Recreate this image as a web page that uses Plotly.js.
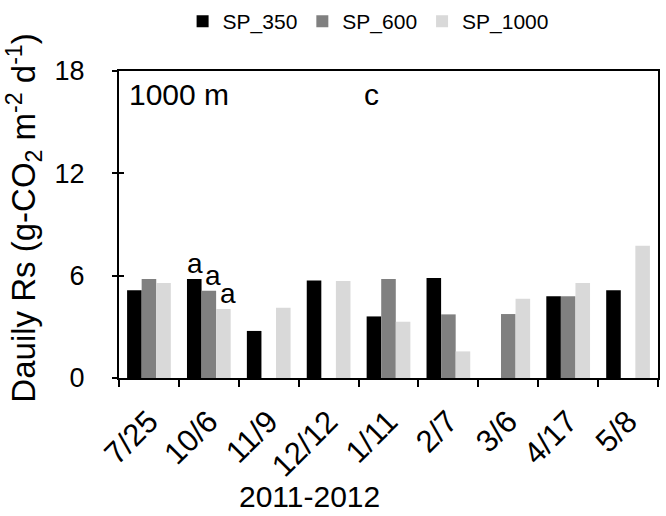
<!DOCTYPE html>
<html>
<head>
<meta charset="utf-8">
<script src="https://cdn.plot.ly/plotly-3.0.1.min.js"></script>
<style>
  html, body { margin: 0; padding: 0; background: #fff; }
  #chart { width: 666px; height: 516px; }
</style>
</head>
<body>
<div id="chart"></div>
<script>
// Sampling dates (2011-2012)
const dates = ['7/25', '10/6', '11/9', '12/12', '1/11', '2/7', '3/6', '4/17', '5/8'];

// Daily soil respiration, g-CO2 m-2 d-1 (null = no measurement)
const sp350  = [5.14, 5.81, 2.76, 5.72, 3.61, 5.86, null, 4.79, 5.14];
const sp600  = [5.81, 5.12, null, null, 5.81, 3.73, 3.75, 4.79, null];
const sp1000 = [5.57, 4.05, 4.12, 5.69, 3.30, 1.56, 4.65, 5.57, 7.76];

const seriesNames = ['SP_350', 'SP_600', 'SP_1000'];
const seriesColors = ['#000000', '#808080', '#d9d9d9'];

// Significance letters shown over the 10/6 group
const letterDate = '10/6';
const letters = ['a', 'a', 'a'];

const FONT = 'Liberation Sans, Arial, sans-serif';
const allSeries = [sp350, sp600, sp1000];

const traces = allSeries.map((vals, i) => ({
  type: 'bar',
  name: seriesNames[i],
  x: dates,
  y: vals,
  marker: { color: seriesColors[i], line: { width: 0 } },
  hoverinfo: 'x+y+name'
}));

const idx = dates.indexOf(letterDate);
const letterShift = [-14, 4, 19];
const letterNotes = letters.map((t, i) => ({
  x: letterDate, y: allSeries[i][idx], xref: 'x', yref: 'y',
  text: t, showarrow: false, xanchor: 'center', yanchor: 'bottom',
  xshift: letterShift[i], yshift: -2,
  font: { family: FONT, size: 28, color: '#000' }
}));

const layout = {
  width: 666, height: 516,
  margin: { l: 119, r: 8, t: 71, b: 138, autoexpand: false },
  paper_bgcolor: '#fff', plot_bgcolor: '#fff',
  font: { family: FONT, color: '#000' },
  barmode: 'group', bargap: 0.27, bargroupgap: 0,
  showlegend: true,
  legend: {
    orientation: 'h', x: 0.118, xanchor: 'left', y: 1.228, yanchor: 'top',
    font: { family: FONT, size: 21, color: '#000' },
    traceorder: 'normal', bgcolor: 'rgba(0,0,0,0)', borderwidth: 0
  },
  xaxis: {
    type: 'category',
    tickson: 'boundaries', ticks: 'outside', ticklen: 7, tickwidth: 2, tickcolor: '#000',
    tickangle: -45, ticklabelstandoff: 11,
    tickfont: { family: FONT, size: 31, color: '#000' },
    showline: true, linecolor: '#000', linewidth: 2, mirror: true,
    showgrid: false, zeroline: false, fixedrange: true
  },
  yaxis: {
    range: [0, 18], tick0: 0, dtick: 6,
    ticks: 'outside', ticklen: 5, tickwidth: 2, tickcolor: '#000',
    ticklabelstandoff: 22,
    tickfont: { family: FONT, size: 27, color: '#000' },
    showline: true, linecolor: '#000', linewidth: 2, mirror: true,
    showgrid: false, zeroline: false, fixedrange: true
  },
  // inner half of the crossing y ticks
  yaxis2: {
    overlaying: 'y', side: 'left', range: [0, 18], tick0: 0, dtick: 6,
    ticks: 'inside', ticklen: 5, tickwidth: 2, tickcolor: '#000',
    showticklabels: false, showline: false, showgrid: false, zeroline: false,
    fixedrange: true
  },
  annotations: [
    // y-axis title
    { x: -0.177, y: 0.521, xref: 'paper', yref: 'paper', textangle: -90,
      text: 'Dauily Rs (g-CO<sub>2</sub> m<sup>-2</sup> d<sup>-1</sup>)',
      showarrow: false, xanchor: 'center', yanchor: 'middle',
      font: { family: FONT, size: 33, color: '#000' } },
    // x-axis title
    { x: 0.354, y: -0.446, xref: 'paper', yref: 'paper', text: '2011-2012',
      showarrow: false, xanchor: 'center', yanchor: 'bottom',
      font: { family: FONT, size: 30, color: '#000' } },
    { x: 0.015, y: 0.925, xref: 'paper', yref: 'paper', text: '1000 m',
      showarrow: false, xanchor: 'left', yanchor: 'middle',
      font: { family: FONT, size: 30, color: '#000' } },
    { x: 0.469, y: 0.925, xref: 'paper', yref: 'paper', text: 'c',
      showarrow: false, xanchor: 'center', yanchor: 'middle',
      font: { family: FONT, size: 30, color: '#000' } },
    ...letterNotes
  ]
};

// an empty trace keeps yaxis2 drawn
traces.push({ type: 'scatter', x: [], y: [], yaxis: 'y2', showlegend: false, hoverinfo: 'skip' });

Plotly.newPlot('chart', traces, layout, { displayModeBar: false, staticPlot: true });
</script>
</body>
</html>
